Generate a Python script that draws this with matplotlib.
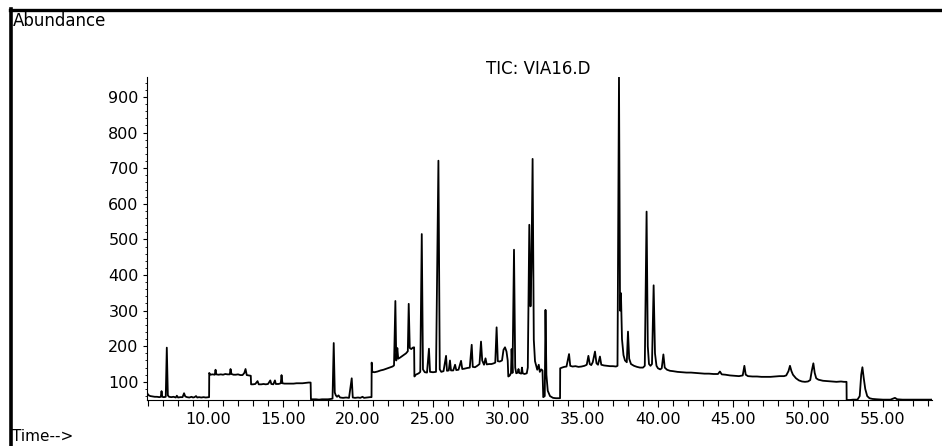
import numpy as np
from matplotlib import pyplot as plt
from matplotlib import rcParams
from matplotlib.lines import Line2D
from matplotlib.ticker import MultipleLocator, FormatStrFormatter
rcParams['font.family'] = ['DejaVu Sans']
rcParams['font.size'] = 11

# retention time (min) and abundance
time = [
    5.93, 5.97, 6.05, 6.15, 6.30, 6.45, 6.60, 6.75, 6.85, 6.90, 6.95, 7.05, 7.18, 7.25, 7.32, 7.40,
    7.55, 7.70, 7.85, 7.92, 8.00, 8.15, 8.30, 8.40, 8.48, 8.60, 8.75, 8.90, 9.00, 9.10, 9.20, 9.28,
    9.40, 9.55, 9.70, 9.85, 10.05, 10.07, 10.08, 10.15, 10.30, 10.45, 10.50, 10.55, 10.70, 10.85,
    11.00, 11.15, 11.30, 11.45, 11.50, 11.56, 11.70, 11.85, 12.00, 12.15, 12.30, 12.42, 12.50, 12.58,
    12.70, 12.85, 12.87, 13.00, 13.15, 13.30, 13.38, 13.55, 13.70, 13.85, 14.00, 14.15, 14.22, 14.35,
    14.46, 14.52, 14.70, 14.85, 14.90, 14.96, 15.10, 15.30, 15.50, 15.70, 15.90, 16.10, 16.30, 16.50,
    16.70, 16.84, 16.86, 17.00, 17.20, 17.40, 17.60, 17.80, 18.00, 18.20, 18.30, 18.38, 18.45, 18.52,
    18.60, 18.70, 18.80, 19.00, 19.20, 19.40, 19.58, 19.65, 19.80, 20.00, 20.15, 20.30, 20.40, 20.60,
    20.80, 20.90, 20.91, 20.95, 21.10, 21.30, 21.50, 21.70, 21.90, 22.10, 22.30, 22.40, 22.49, 22.55,
    22.62, 22.68, 22.80, 23.00, 23.20, 23.32, 23.38, 23.45, 23.55, 23.65, 23.74, 23.76, 23.85, 23.95,
    24.05, 24.15, 24.25, 24.33, 24.45, 24.60, 24.73, 24.80, 25.00, 25.20, 25.36, 25.45, 25.55, 25.70,
    25.87, 25.93, 26.05, 26.13, 26.20, 26.35, 26.47, 26.55, 26.70, 26.87, 26.95, 27.10, 27.30, 27.45,
    27.58, 27.65, 27.80, 27.95, 28.10, 28.20, 28.28, 28.40, 28.50, 28.58, 28.75, 28.90, 29.05, 29.15,
    29.24, 29.32, 29.45, 29.60, 29.70, 29.80, 29.90, 29.98, 30.02, 30.12, 30.20, 30.24, 30.30, 30.40,
    30.48, 30.55, 30.65, 30.70, 30.75, 30.88, 30.93, 30.98, 31.10, 31.25, 31.32, 31.42, 31.50, 31.56,
    31.64, 31.72, 31.80, 31.95, 32.05, 32.12, 32.22, 32.30, 32.35, 32.45, 32.50, 32.56, 32.65, 32.80,
    33.00, 33.20, 33.40, 33.47, 33.48, 33.60, 33.75, 33.90, 34.07, 34.15, 34.30, 34.50, 34.70, 34.90,
    35.10, 35.25, 35.36, 35.45, 35.55, 35.65, 35.80, 35.90, 36.00, 36.13, 36.22, 36.40, 36.60, 36.80,
    37.00, 37.20, 37.30, 37.40, 37.47, 37.53, 37.60, 37.70, 37.80, 37.92, 38.00, 38.08, 38.20, 38.40,
    38.60, 38.80, 39.00, 39.12, 39.24, 39.32, 39.40, 39.50, 39.60, 39.71, 39.80, 39.90, 40.00, 40.15,
    40.25, 40.36, 40.45, 40.60, 40.80, 41.00, 41.30, 41.60, 41.90, 42.20, 42.50, 42.80, 43.10, 43.40,
    43.70, 44.00, 44.13, 44.25, 44.50, 44.80, 45.10, 45.40, 45.65, 45.76, 45.85, 46.00, 46.30, 46.60,
    46.90, 47.20, 47.50, 47.80, 48.10, 48.40, 48.55, 48.70, 48.80, 48.90, 49.00, 49.20, 49.40, 49.60,
    49.80, 50.00, 50.15, 50.25, 50.36, 50.45, 50.55, 50.70, 51.00, 51.30, 51.60, 51.90, 52.20, 52.40,
    52.57, 52.58, 52.80, 53.00, 53.30, 53.45, 53.55, 53.63, 53.72, 53.82, 53.95, 54.10, 54.30, 54.60,
    55.00, 55.50, 55.80, 55.95, 56.30, 56.70, 57.10, 57.50, 57.90, 58.25,
]
abundance = [
    70, 66, 62, 60, 59, 58, 58, 57, 58, 74, 58, 57, 58, 196, 62, 58,
    57, 58, 56, 61, 56, 57, 57, 68, 59, 57, 56, 58, 56, 57, 60, 56,
    57, 56, 57, 56, 57, 57, 125, 120, 121, 120, 134, 121, 120, 121,
    120, 122, 121, 121, 136, 122, 120, 120, 121, 119, 119, 125, 136, 119,
    118, 117, 93, 93, 94, 102, 93, 93, 94, 93, 94, 104, 94, 93,
    104, 94, 94, 96, 119, 96, 95, 95, 95, 95, 96, 96, 96, 97,
    98, 98, 51, 51, 51, 50, 51, 51, 51, 52, 53, 209, 70, 62,
    58, 62, 56, 55, 56, 55, 110, 56, 55, 56, 55, 58, 55, 56,
    57, 57, 154, 128, 127, 129, 132, 134, 137, 140, 143, 146, 327, 160,
    195, 165, 168, 174, 180, 186, 319, 195, 192, 196, 197, 115, 120, 122,
    124, 128, 515, 135, 127, 126, 193, 128, 127, 128, 721, 135, 128, 130,
    173, 131, 132, 160, 132, 132, 148, 133, 134, 159, 136, 137, 139, 140,
    204, 142, 141, 145, 150, 213, 160, 148, 166, 149, 150, 150, 152, 154,
    253, 158, 157, 160, 190, 197, 185, 160, 115, 118, 125, 192, 125, 471,
    140, 124, 126, 136, 125, 123, 140, 124, 122, 124, 140, 541, 312, 420,
    726, 218, 158, 134, 148, 128, 135, 132, 57, 60, 302, 120, 75, 60,
    55, 54, 54, 54, 138, 140, 142, 143, 178, 145, 143, 144, 142, 143,
    145, 148, 173, 150, 147, 155, 185, 152, 148, 171, 148, 146, 145, 144,
    144, 143, 145, 955, 300, 349, 220, 175, 160, 155, 241, 165, 150, 145,
    142, 140, 140, 145, 578, 200, 150, 145, 150, 371, 180, 145, 138, 135,
    138, 177, 140, 134, 131, 130, 128, 127, 126, 126, 125, 124, 123, 123,
    122, 122, 129, 121, 120, 118, 117, 116, 118, 145, 120, 116, 115, 115,
    114, 114, 114, 115, 116, 116, 118, 130, 145, 130, 120, 110, 104, 101,
    100, 101, 105, 130, 152, 125, 110, 106, 103, 102, 101, 100, 101, 100,
    100, 49, 49, 50, 50, 60, 120, 141, 110, 80, 60, 54, 52, 51,
    50, 50, 55, 51, 50, 50, 50, 50, 50, 50,
]
x_ticks = [10, 15, 20, 25, 30, 35, 40, 45, 50, 55]
y_ticks = [100, 200, 300, 400, 500, 600, 700, 800, 900]

W, H = 942, 446
fig = plt.figure(figsize=(W / 100, H / 100), dpi=100)
ax = fig.add_axes([147 / W, 1 - 400 / H, (932 - 147) / W, (400 - 77) / H])

ax.plot(time, abundance, color='black', lw=1.3)
ax.set_xlim(5.93, 58.27)
ax.set_ylim(49, 956)

for s in ['top', 'right']:
    ax.spines[s].set_visible(False)
for s in ['left', 'bottom']:
    ax.spines[s].set_linewidth(0.8)

ax.set_xticks(x_ticks)
ax.xaxis.set_major_formatter(FormatStrFormatter('%.2f'))
ax.xaxis.set_minor_locator(MultipleLocator(1))
ax.set_yticks(y_ticks)
ax.yaxis.set_minor_locator(MultipleLocator(20))
ax.tick_params(axis='x', which='major', length=5, width=0.8, pad=4, labelsize=11.5)
ax.tick_params(axis='x', which='minor', length=4, width=0.8)
ax.tick_params(axis='y', which='major', length=3, width=0.8, pad=3, labelsize=11.5)
ax.tick_params(axis='y', which='minor', length=1.5, width=0.6)

fig.text(538 / W, 1 - 74 / H, 'TIC: VIA16.D', ha='center', va='baseline', fontsize=12)
fig.text(13 / W, 1 - 26 / H, 'Abundance', ha='left', va='baseline', fontsize=12)
fig.text(12 / W, 1 - 441 / H, 'Time-->', ha='left', va='baseline', fontsize=11)

# frame lines on the left and top
fig.add_artist(Line2D([11 / W, 11 / W], [0, 1 - 8.5 / H], transform=fig.transFigure,
                      color='black', lw=2.6))
fig.add_artist(Line2D([9.5 / W, 1], [1 - 10 / H, 1 - 10 / H], transform=fig.transFigure,
                      color='black', lw=2.4))

fig.savefig('out.png', dpi=100)
